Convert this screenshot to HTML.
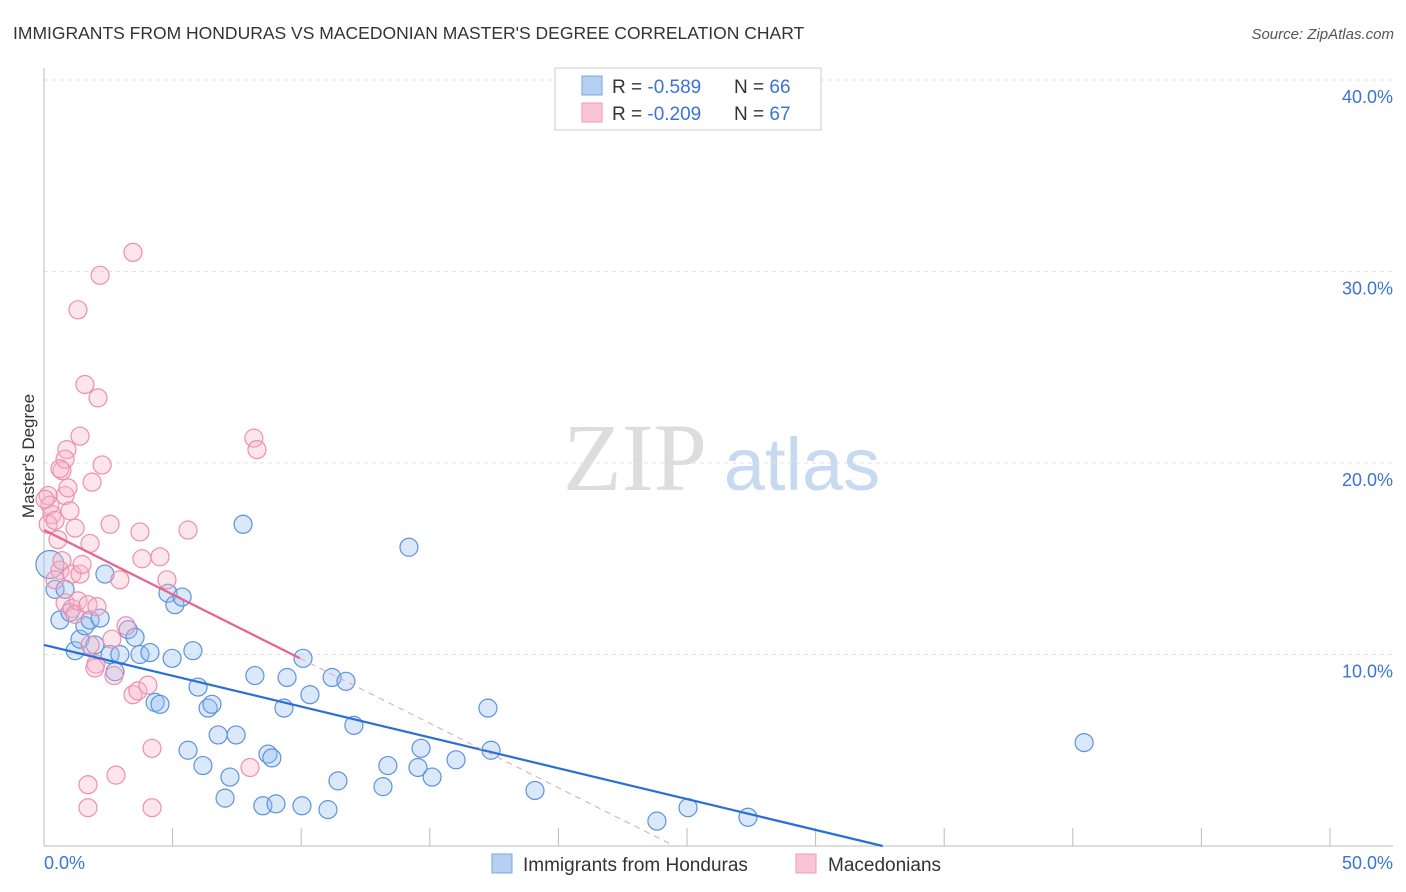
<!DOCTYPE html>
<html><head><meta charset="utf-8"><style>
body{margin:0;background:#fff;font-family:"Liberation Sans",sans-serif;}
svg{display:block}
</style></head><body>
<svg width="1406" height="892" viewBox="0 0 1406 892">
<text x="13" y="39" font-size="17.5" fill="#333">IMMIGRANTS FROM HONDURAS VS MACEDONIAN MASTER'S DEGREE CORRELATION CHART</text>
<text x="1394" y="39" font-size="15" fill="#555" font-style="italic" text-anchor="end">Source: ZipAtlas.com</text>
<g>
<text x="635" y="490" font-size="96" fill="#ddd" font-family="Liberation Serif,serif" text-anchor="middle">ZIP</text>
<text x="802" y="490" font-size="74" fill="#c8daf0" text-anchor="middle">atlas</text>
</g>
<g id="grid"></g>
<g id="axes"></g>
<g id="marks"></g>
<text transform="translate(34,456) rotate(-90)" font-size="17" fill="#333" text-anchor="middle">Master's Degree</text>
<g>
<rect x="555" y="68" width="266" height="62" fill="#fff" stroke="#ccc"/>
<rect x="582" y="76" width="20" height="19" fill="#b6d0f2" stroke="#7aa6e0"/>
<rect x="582" y="103" width="20" height="19" fill="#f9c5d4" stroke="#ef9ab3"/>
<text x="612" y="93" font-size="19" fill="#333">R = <tspan fill="#3a74d4">-0.589</tspan><tspan x="734">N = </tspan><tspan fill="#3a74d4">66</tspan></text>
<text x="612" y="120" font-size="19" fill="#333">R = <tspan fill="#3a74d4">-0.209</tspan><tspan x="734">N = </tspan><tspan fill="#3a74d4">67</tspan></text>
</g>
<g>
<rect x="492" y="854" width="20" height="19" fill="#b6d0f2" stroke="#7aa6e0"/>
<text x="523" y="871" font-size="19" fill="#333">Immigrants from Honduras</text>
<rect x="796" y="854" width="20" height="19" fill="#f9c5d4" stroke="#ef9ab3"/>
<text x="828" y="871" font-size="19" fill="#333">Macedonians</text>
</g>
</svg>
<script>
const xTicks=[0,5,10,15,20,25,30,35,40,45,50];
const yTicks=[10,20,30,40];
const yTickLabels=["10.0%","20.0%","30.0%","40.0%"];
const blueX=[0.23,0.43,0.62,0.82,1.01,1.21,1.4,1.59,1.79,1.98,2.18,2.37,2.57,2.76,2.95,3.27,3.54,3.73,4.12,4.32,4.51,4.82,4.98,5.09,5.37,5.6,5.79,5.99,6.18,6.38,6.53,6.77,7.04,7.23,7.47,7.74,8.2,8.51,8.71,8.86,9.02,9.33,9.45,10.03,10.07,10.34,11.04,11.2,11.43,11.74,12.05,13.18,13.37,14.19,14.54,14.66,15.09,16.02,17.26,17.38,19.09,23.83,25.04,27.37,40.44];
const blueY=[14.7,13.4,11.8,13.4,12.2,10.2,10.8,11.5,11.8,10.5,11.9,14.2,10.0,9.1,10.0,11.3,10.9,10.0,10.1,7.5,7.4,13.2,9.8,12.6,13.0,5.0,10.2,8.3,4.2,7.2,7.4,5.8,2.5,3.6,5.8,16.8,8.9,2.1,4.8,4.6,2.2,7.2,8.8,2.1,9.8,7.9,1.9,8.8,3.4,8.6,6.3,3.1,4.2,15.6,4.1,5.1,3.6,4.5,7.2,5.0,2.9,1.3,2.0,1.5,5.4];
const pinkX=[0.16,0.23,0.31,0.16,0.43,0.54,0.62,0.7,0.7,0.82,0.82,0.93,1.01,1.09,1.21,1.09,1.21,1.32,1.32,1.4,1.4,1.48,1.59,1.71,1.79,1.79,1.87,2.02,2.06,2.1,2.18,2.26,2.57,2.64,2.72,2.8,2.95,3.19,3.46,3.46,3.65,3.73,3.81,4.04,4.2,4.2,4.51,4.78,5.6,8.01,8.16,8.28,1.71,1.71,0.89,0.82,0.43,0.04,1.98,0.62];
const pinkY=[18.3,17.8,17.3,16.8,17.0,16.0,14.4,14.9,19.6,18.3,12.7,18.7,17.5,14.2,16.6,12.4,12.1,12.8,28.0,21.4,14.2,14.7,24.1,12.6,15.8,10.5,19.0,9.5,12.5,23.4,29.8,19.9,16.8,10.8,8.9,3.7,13.9,11.5,31.0,7.9,8.1,16.4,15.0,8.4,5.1,2.0,15.1,13.9,16.5,4.1,21.3,20.7,2.0,3.2,20.7,20.2,13.9,18.1,9.3,19.7];
const blueTrend=[10.5,-0.322];
const pinkTrend=[16.5,-0.673];
const pinkSolidEnd=9.95;
const NS="http://www.w3.org/2000/svg";
const X=v=>44+v*25.72, Y=v=>846-v*19.15;
function mk(t,a,p){const e=document.createElementNS(NS,t);for(const k in a)e.setAttribute(k,a[k]);p.appendChild(e);return e;}
const grid=document.getElementById('grid'),axes=document.getElementById('axes'),marks=document.getElementById('marks');
yTicks.forEach((v,i)=>{
 const l=mk('line',{x1:44,x2:1393,y1:Y(v),y2:Y(v),stroke:'#e2e2e2','stroke-dasharray':'4,4'},grid);
 
 
 const t=mk('text',{x:1393,y:Y(v)+23,'font-size':18,fill:'#3a74d4','text-anchor':'end'},axes);
 t.textContent=yTickLabels[i];
 
 
});
const ax=mk('line',{x1:44,x2:1393,y1:846,y2:846,stroke:'#bbb'},axes);


const ay=mk('line',{x1:44,x2:44,y1:68,y2:846,stroke:'#bbb'},axes);


xTicks.forEach(v=>{
 const l=mk('line',{x1:X(v),x2:X(v),y1:828,y2:846,stroke:'#bbb'},axes);
 
 
});
const t0=mk('text',{x:44,y:869,'font-size':18,fill:'#3a74d4'},axes);t0.textContent='0.0%';


const t1=mk('text',{x:1393,y:869,'font-size':18,fill:'#3a74d4','text-anchor':'end'},axes);t1.textContent='50.0%';


blueX.forEach((v,i)=>{
 const c=mk('circle',{cx:X(v),cy:Y(blueY[i]),r:i==0?14:9,fill:'rgba(150,190,240,0.35)',stroke:'#5b93dd','stroke-width':1.2},marks);
 
 
});
pinkX.forEach((v,i)=>{
 const c=mk('circle',{cx:X(v),cy:Y(pinkY[i]),r:9,fill:'rgba(248,180,200,0.35)',stroke:'#ec8fac','stroke-width':1.2},marks);
 
 
});
const bEnd=-blueTrend[0]/blueTrend[1];
const bl=mk('line',{x1:X(0),y1:Y(blueTrend[0]),x2:X(bEnd),y2:Y(0),stroke:'#2a6fd6','stroke-width':2.2},marks);


const pEnd=-pinkTrend[0]/pinkTrend[1];
const pl=mk('line',{x1:X(0),y1:Y(pinkTrend[0]),x2:X(pinkSolidEnd),y2:Y(pinkTrend[0]+pinkTrend[1]*pinkSolidEnd),stroke:'#e8628f','stroke-width':2.2},marks);


const pd=mk('line',{x1:X(pinkSolidEnd),y1:Y(pinkTrend[0]+pinkTrend[1]*pinkSolidEnd),x2:X(pEnd),y2:Y(0),stroke:'#e8a0b8','stroke-width':1,'stroke-dasharray':'6,5'},marks);


</script>
</body></html>
